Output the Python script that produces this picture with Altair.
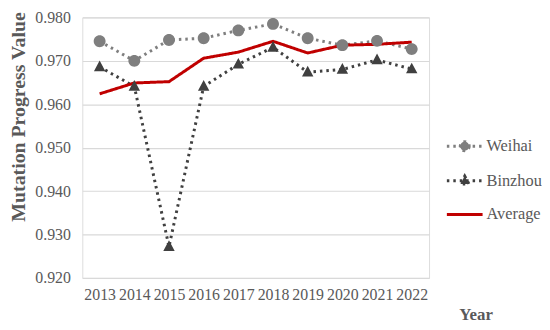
import altair as alt
import pandas as pd

years = ["2013", "2014", "2015", "2016", "2017", "2018", "2019", "2020", "2021", "2022"]
weihai = [0.9745, 0.9700, 0.9748, 0.9752, 0.9770, 0.9785, 0.9752, 0.9736, 0.9746, 0.9727]
binzhou = [0.9686, 0.9641, 0.9272, 0.9641, 0.9692, 0.9731, 0.9674, 0.9680, 0.9702, 0.9681]
average = [0.9624, 0.9649, 0.9652, 0.9706, 0.9720, 0.9745, 0.9718, 0.9736, 0.9738, 0.9743]
series = ["Weihai", "Binzhou", "Average"]

rows = []
for name, vals in zip(series, [weihai, binzhou, average]):
    for y, v in zip(years, vals):
        rows.append({"year": y, "value": v, "series": name})
df = pd.DataFrame(rows)

FONT = "Liberation Serif"
GREY = "#595959"

x = alt.X("year:O", sort=years,
          scale=alt.Scale(type="point", padding=0.5),
          axis=alt.Axis(title="Year", labelAngle=0, labelFont=FONT, labelFontSize=16,
                        labelColor=GREY, labelPadding=9, ticks=False, domain=False,
                        titleFont=FONT, titleFontSize=17, titleFontWeight="bold",
                        titleColor=GREY, titleAnchor="start", titleX=380, titleY=37,
                        titleBaseline="middle"))
y = alt.Y("value:Q",
          scale=alt.Scale(domain=[0.92, 0.98], nice=False, zero=False),
          axis=alt.Axis(title="Mutation Progress Value", format=".3f",
                        values=[0.92, 0.93, 0.94, 0.95, 0.96, 0.97, 0.98],
                        labelFont=FONT, labelFontSize=16, labelColor=GREY, labelPadding=12,
                        ticks=False, domain=False, gridColor="#d9d9d9", gridWidth=1.2,
                        titleFont=FONT, titleFontSize=20, titleFontWeight="bold",
                        titleColor=GREY, titleX=-64, titleY=100, titleAngle=270,
                        titleAlign="center", titleBaseline="middle"))

# custom symbols: a horizontal line (only visible when stroked) plus a marker
circle_path = "M-1,0L1,0M0.25,0A0.25,0.25,0,1,1,-0.25,0A0.25,0.25,0,1,1,0.25,0Z"
tri_path = "M-1,0L1,0M0,-0.27L0.24,0.18L-0.24,0.18Z"
line_path = "M-1,0L1,0"

leg = alt.Legend(title=None, orient="none", legendX=366, legendY=110,
                 symbolSize=1300, symbolStrokeWidth=3,
                 labelFont=FONT, labelFontSize=16.5, labelColor=GREY,
                 rowPadding=4, labelOffset=2)

color = alt.Color("series:N", sort=series,
                  scale=alt.Scale(domain=series, range=["#7f7f7f", "#404040", "#c00000"]),
                  legend=leg)
shape = alt.Shape("series:N", sort=series,
                  scale=alt.Scale(domain=series, range=[circle_path, tri_path, line_path]),
                  legend=leg)
dash = alt.StrokeDash("series:N", sort=series,
                      scale=alt.Scale(domain=series, range=[[2.5, 4], [2.5, 4], [1, 0]]),
                      legend=leg)

lines = alt.Chart(df).mark_line().encode(
    x=x, y=y, color=color, strokeDash=dash,
    strokeWidth=alt.StrokeWidth("series:N", sort=series,
                                scale=alt.Scale(domain=series, range=[3, 3, 3.2]),
                                legend=None),
)

points = alt.Chart(df).transform_filter(alt.datum.series != "Average").mark_point(
    filled=True, opacity=1, size=2300, strokeWidth=0).encode(
    x=x, y=y, color=color, shape=shape,
)

chart = alt.layer(lines, points).properties(
    width=350, height=263, padding={"left": 0, "top": 0, "right": 0, "bottom": 0}
).configure_view(stroke=None).configure(background="white", font=FONT
).configure_legend(labelFont=FONT)

chart.save("out.html", embed_options={"renderer": "svg", "actions": False})
